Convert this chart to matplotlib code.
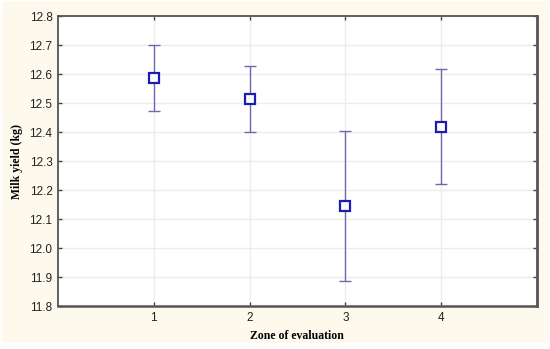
import matplotlib
matplotlib.use('Agg')
import matplotlib.pyplot as plt
from matplotlib.patches import Rectangle

# zone means and confidence limits
zones = [1, 2, 3, 4]
means = [12.586, 12.513, 12.146, 12.419]
upper = [12.701, 12.628, 12.405, 12.619]
lower = [12.472, 12.399, 11.887, 12.221]

yticks = [11.8, 11.9, 12.0, 12.1, 12.2, 12.3, 12.4, 12.5, 12.6, 12.7, 12.8]

err_lo = [m - l for m, l in zip(means, lower)]
err_hi = [u - m for m, u in zip(means, upper)]

fig = plt.figure(figsize=(5.5, 3.49), dpi=100, facecolor='white')
# cream panel behind the plot, white frame round it
fig.patches.append(Rectangle((0.004, 0.017), 0.992, 0.98, transform=fig.transFigure,
                             facecolor='#fdf9ec', edgecolor='none', zorder=-1))

ax = fig.add_axes([0.1055, 0.122, 0.8705, 0.832])
ax.set_facecolor('white')

ax.errorbar(zones, means, yerr=[err_lo, err_hi], fmt='none', ecolor='#6a6ab0',
            elinewidth=1.0, capsize=4, capthick=1.0, zorder=3)
ax.plot(zones, means, 's', markersize=7.5, markerfacecolor='white',
        markeredgecolor='#1c1cb0', markeredgewidth=1.6, zorder=4)

ax.set_xlim(0, 5)
ax.set_ylim(11.8, 12.8)
ax.set_xticks(zones)
ax.set_yticks(yticks)
ax.set_yticklabels(['%.1f' % t for t in yticks])
ax.grid(True, color='#ececec', linewidth=1.0)
ax.set_axisbelow(True)

ax.tick_params(direction='in', length=3, width=1, color='#444444',
               top=True, right=True, labelsize=8.5, labelcolor='#222222', pad=4)
for lab in ax.get_xticklabels() + ax.get_yticklabels():
    lab.set_family('Liberation Sans')

for side in ['left', 'bottom', 'top', 'right']:
    ax.spines[side].set_color('#555555')
    ax.spines[side].set_linewidth(1.3)
ax.spines['right'].set_linewidth(2.0)
ax.spines['bottom'].set_linewidth(1.8)

ax.set_xlabel('Zone of evaluation', family='Liberation Serif', fontweight='bold',
              fontsize=8.5, labelpad=4)
ax.set_ylabel('Milk yield (kg)', family='Liberation Serif', fontweight='bold',
              fontsize=8.5, labelpad=5)

fig.savefig('out.png', dpi=100, facecolor=fig.get_facecolor())
